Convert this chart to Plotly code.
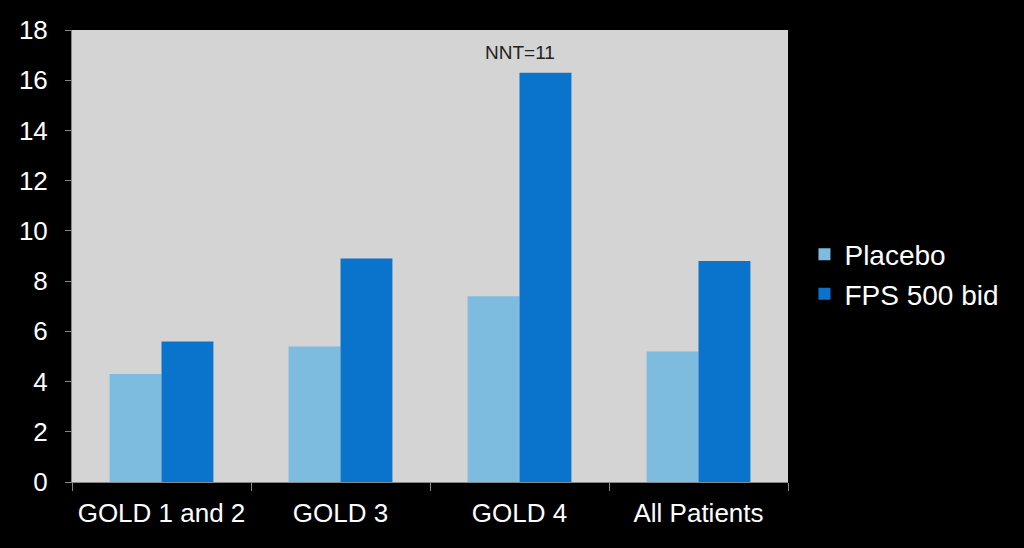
import plotly.graph_objects as go

categories = ["GOLD 1 and 2", "GOLD 3", "GOLD 4", "All Patients"]
placebo = [4.3, 5.4, 7.4, 5.2]
fps = [5.6, 8.9, 16.3, 8.8]
y_ticks = list(range(0, 19, 2))

fig = go.Figure()
fig.add_trace(go.Bar(x=categories, y=placebo, name="Placebo", marker_color="#7dbbdf", marker_line_width=0))
fig.add_trace(go.Bar(x=categories, y=fps, name="FPS 500 bid", marker_color="#0a73cc", marker_line_width=0))

fig.add_annotation(x="GOLD 4", y=17.1, text="NNT=11", showarrow=False,
                   font=dict(family="Liberation Sans, Arial", size=19, color="#222222"))

fig.update_layout(
    width=1024, height=548,
    paper_bgcolor="black", plot_bgcolor="#d4d4d4",
    margin=dict(l=72, r=236, t=30, b=66),
    barmode="group", bargap=0.42, bargroupgap=0,
    font=dict(family="Liberation Sans, Arial", color="white", size=26),
    legend=dict(x=1.023, y=0.46, yanchor="middle", xanchor="left",
                font=dict(size=28, color="white"), bgcolor="rgba(0,0,0,0)",
                tracegroupgap=9, itemwidth=30),
    showlegend=True,
)
fig.update_xaxes(showline=True, linecolor="#888888", linewidth=1, ticks="outside",
                 tickson="boundaries", ticklen=8, tickcolor="#888888",
                 ticklabelstandoff=8,
                 tickfont=dict(size=26, color="white"), showgrid=False)
fig.update_yaxes(range=[0, 18], tickvals=y_ticks, showline=True, linecolor="#888888",
                 linewidth=1, ticks="outside", ticklen=6, tickcolor="#888888",
                 ticklabelstandoff=12,
                 tickfont=dict(size=26, color="white"), showgrid=False, zeroline=False)

fig.write_html("out.html", config={"displayModeBar": False},
               post_script="document.body.style.margin='0';document.body.style.background='black';")
